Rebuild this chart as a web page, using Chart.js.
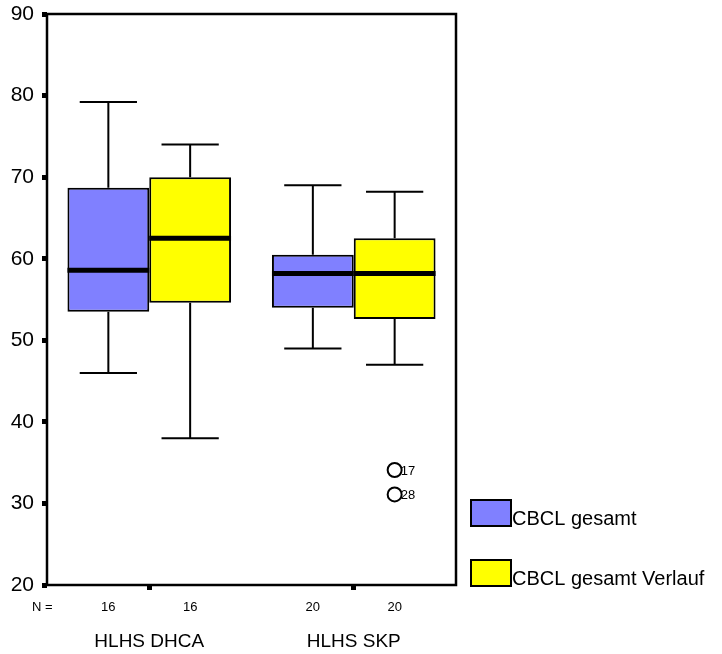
<!DOCTYPE html>
<html>
<head>
<meta charset="utf-8">
<script src="https://cdn.jsdelivr.net/npm/chart.js@4/dist/chart.umd.min.js"></script>
<style>
  html, body { margin: 0; padding: 0; background: #fff; }
  #wrap { width: 722px; height: 654px; }
</style>
</head>
<body>
<div id="wrap"><canvas id="boxChart"></canvas></div>
<script>
/* global Chart */

let categories = ["HLHS DHCA", "HLHS SKP"];
let seriesNames = ["CBCL gesamt", "CBCL gesamt Verlauf"];
let yTicks = [20, 30, 40, 50, 60, 70, 80, 90];

// box stats per category
let gesamtMin = [46, 49];
let gesamtQ1 = [53.5, 54];
let gesamtMedian = [58.6, 58.2];
let gesamtQ3 = [68.7, 60.5];
let gesamtMax = [79.2, 69];
let gesamtN = [16, 20];

let verlaufMin = [38, 47];
let verlaufQ1 = [54.6, 52.6];
let verlaufMedian = [62.5, 58.2];
let verlaufQ3 = [70, 62.5];
let verlaufMax = [74, 68.2];
let verlaufN = [16, 20];

// outliers (only Verlauf, SKP)
let verlaufOutliers = [[], [34.1, 31.1]];
let verlaufOutlierIds = [[], ["17", "28"]];

let stats = [
  { min: gesamtMin, median: gesamtMedian, max: gesamtMax, n: gesamtN, out: [[], []], ids: [[], []] },
  { min: verlaufMin, median: verlaufMedian, max: verlaufMax, n: verlaufN, out: verlaufOutliers, ids: verlaufOutlierIds },
];

let colors = ["#8080ff", "#ffff00"];
let font = "Liberation Sans, Arial, sans-serif";

let boxPlugin = {
  id: "boxParts",
  beforeDatasetsDraw(chart) {
    let ctx = chart.ctx;
    let y = chart.scales.y;
    ctx.save();
    ctx.strokeStyle = "#000";
    ctx.lineWidth = 2;
    stats.forEach((s, i) => {
      let meta = chart.getDatasetMeta(i);
      meta.data.forEach((bar, j) => {
        let cap = bar.width * 0.35;
        let lo = chart.data.datasets[i].data[j][0];
        let hi = chart.data.datasets[i].data[j][1];
        ctx.beginPath();
        ctx.moveTo(bar.x, y.getPixelForValue(hi));
        ctx.lineTo(bar.x, y.getPixelForValue(s.max[j]));
        ctx.moveTo(bar.x - cap, y.getPixelForValue(s.max[j]));
        ctx.lineTo(bar.x + cap, y.getPixelForValue(s.max[j]));
        ctx.moveTo(bar.x, y.getPixelForValue(lo));
        ctx.lineTo(bar.x, y.getPixelForValue(s.min[j]));
        ctx.moveTo(bar.x - cap, y.getPixelForValue(s.min[j]));
        ctx.lineTo(bar.x + cap, y.getPixelForValue(s.min[j]));
        ctx.stroke();
      });
    });
    ctx.restore();
  },
  afterDatasetsDraw(chart) {
    let ctx = chart.ctx;
    let y = chart.scales.y;
    let area = chart.chartArea;
    ctx.save();
    stats.forEach((s, i) => {
      let meta = chart.getDatasetMeta(i);
      meta.data.forEach((bar, j) => {
        // median
        ctx.strokeStyle = "#000";
        ctx.lineWidth = 5;
        ctx.beginPath();
        ctx.moveTo(bar.x - bar.width / 2, y.getPixelForValue(s.median[j]));
        ctx.lineTo(bar.x + bar.width / 2, y.getPixelForValue(s.median[j]));
        ctx.stroke();
        // outliers
        ctx.lineWidth = 2;
        s.out[j].forEach((v, k) => {
          let py = y.getPixelForValue(v);
          ctx.beginPath();
          ctx.arc(bar.x, py, 7, 0, Math.PI * 2);
          ctx.stroke();
          ctx.fillStyle = "#000";
          ctx.font = "13px " + font;
          ctx.textAlign = "left";
          ctx.textBaseline = "middle";
          ctx.fillText(s.ids[j][k], bar.x + 6, py + 1);
        });
        // N row
        ctx.fillStyle = "#000";
        ctx.font = "13px " + font;
        ctx.textAlign = "center";
        ctx.textBaseline = "middle";
        ctx.fillText(String(s.n[j]), bar.x, area.bottom + 22);
      });
    });
    ctx.textAlign = "left";
    ctx.fillText("N =", 32, area.bottom + 22);
    // frame
    ctx.strokeStyle = "#000";
    ctx.lineWidth = 2.5;
    ctx.strokeRect(area.left, area.top, area.right - area.left, area.bottom - area.top);
    // legend
    chart.data.datasets.forEach((ds, i) => {
      let top = 500 + i * 60;
      ctx.fillStyle = ds.backgroundColor;
      ctx.fillRect(471, top, 40, 26);
      ctx.lineWidth = 2;
      ctx.strokeRect(471, top, 40, 26);
      ctx.fillStyle = "#000";
      ctx.font = "20px " + font;
      ctx.textAlign = "left";
      ctx.textBaseline = "alphabetic";
      ctx.fillText(ds.label, 512, top + 25);
    });
    ctx.restore();
  },
};

let ctx = document.getElementById("boxChart").getContext("2d");
let boxChart = new Chart(ctx, {
  type: "bar",
  data: {
    labels: categories,
    datasets: [
      {
        label: seriesNames[0],
        data: categories.map((c, j) => [gesamtQ1[j], gesamtQ3[j]]),
        backgroundColor: colors[0],
        borderColor: "#000",
        borderWidth: 2,
        borderSkipped: false,
      },
      {
        label: seriesNames[1],
        data: categories.map((c, j) => [verlaufQ1[j], verlaufQ3[j]]),
        backgroundColor: colors[1],
        borderColor: "#000",
        borderWidth: 2,
        borderSkipped: false,
      },
    ],
  },
  options: {
    responsive: true,
    maintainAspectRatio: false,
    animation: false,
    layout: { padding: { top: 14, right: 266, left: 0, bottom: 0 } },
    plugins: {
      legend: { display: false },
      tooltip: { enabled: false },
    },
    datasets: { bar: { categoryPercentage: 0.8, barPercentage: 1 } },
    scales: {
      x: {
        afterFit(scale) { scale.height = 69; scale.paddingLeft = 0; scale.paddingRight = 0; },
        border: { display: false },
        grid: { drawOnChartArea: false, offset: false, tickLength: 5, tickWidth: 5, tickColor: "#000" },
        ticks: { color: "#000", padding: 40, font: { family: font, size: 19 } },
      },
      y: {
        min: 20,
        max: 90,
        afterFit(scale) { scale.width = 47; scale.paddingTop = 0; scale.paddingBottom = 0; },
        afterBuildTicks(scale) { scale.ticks = yTicks.map((v) => ({ value: v })); },
        border: { display: false },
        grid: { drawOnChartArea: false, tickLength: 5, tickWidth: 5, tickColor: "#000" },
        ticks: { color: "#000", padding: 8, font: { family: font, size: 21 } },
      },
    },
  },
  plugins: [boxPlugin],
});
</script>
</body>
</html>
